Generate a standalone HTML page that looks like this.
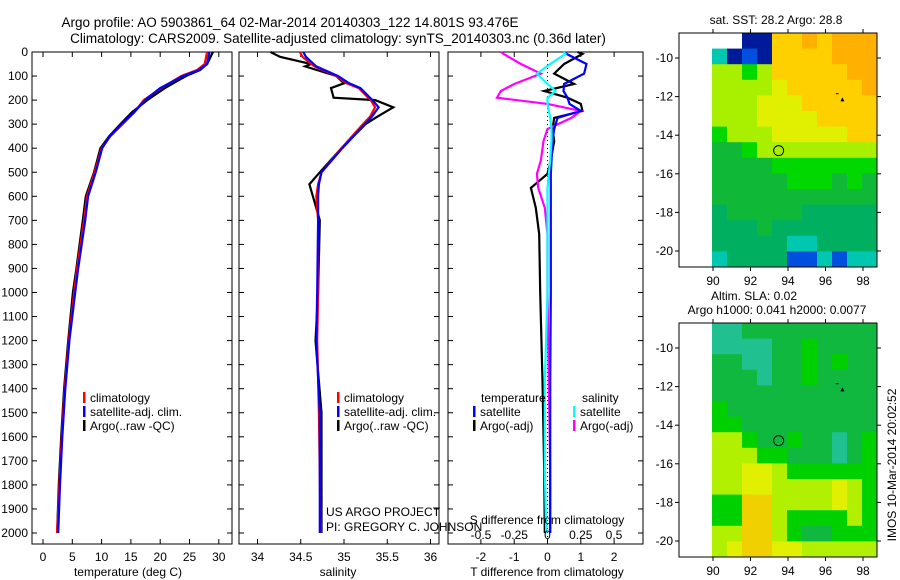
<!DOCTYPE html>
<html><head><meta charset="utf-8"><style>
body{margin:0;background:#fff}
svg{display:block;font-family:"Liberation Sans",sans-serif}
</style></head><body>
<svg id="c" width="900" height="580" viewBox="0 0 900 580" xmlns="http://www.w3.org/2000/svg">
<rect width="900" height="580" fill="#fff"/>
<g font-size="13.5" text-anchor="middle">
<text x="290" y="27">Argo profile: AO 5903861_64 02-Mar-2014 20140303_122 14.801S 93.476E</text>
<text x="338" y="43">Climatology: CARS2009. Satellite-adjusted climatology: synTS_20140303.nc (0.36d later)</text>
</g>
</svg>
<script>
// ---- data ----
const depthTicks=[0,100,200,300,400,500,600,700,800,900,1000,1100,1200,1300,1400,1500,1600,1700,1800,1900,2000];
const tempTicks=[0,5,10,15,20,25,30];
const salTicks=[34,34.5,35,35.5,36];
const tdTicks=[-2,-1,0,1,2];
const sdTicks=[-0.5,-0.25,0,0.25,0.5];
const tempDepth=[0,50,75,100,150,200,250,300,350,400,500,600,700,900,1000,1200,1400,1600,1800,2000];
const tempClim=[28.0,27.6,26.3,23.6,20.2,17.2,15.6,13.6,11.5,10.0,8.8,7.5,7.0,5.8,5.3,4.4,3.7,3.2,2.8,2.4];
const tempSat=[28.4,28.0,26.6,23.9,20.0,17.4,15.6,13.4,11.4,10.1,9.0,7.7,7.2,6.0,5.5,4.5,3.8,3.3,2.9,2.6];
const tempArgo=[29.0,28.0,26.8,24.4,20.8,17.8,15.2,13.2,11.3,9.8,8.7,7.3,6.8,5.7,5.1,4.3,3.6,3.1,2.7,2.4];
const salDepth=[0,20,50,60,100,130,150,190,200,230,270,300,400,500,550,600,700,1000,1200,1500,2000];
const salClim=[34.49,34.52,34.62,34.66,34.91,35.03,35.17,35.28,35.31,35.36,35.30,35.22,34.97,34.74,34.70,34.68,34.70,34.70,34.69,34.71,34.73];
const salSat=[34.53,34.56,34.65,34.68,34.93,35.06,35.19,35.30,35.33,35.40,35.32,35.24,34.98,34.74,34.71,34.70,34.70,34.69,34.68,34.72,34.72];
const salArgo=[34.15,34.26,34.62,34.55,34.91,35.00,34.85,34.88,35.36,35.57,35.38,35.25,34.97,34.72,34.60,34.64,34.72,34.70,34.67,34.74,34.74];
const dDepth=[0,8,50,90,133,162,190,216,245,274,320,370,450,507,565,648,757,1000,1370,1740,2000];
const dTSat=[0.5,0.57,1.17,1.1,0.5,0.48,0.6,0.66,1.0,0.3,0.2,0.15,0.12,0.1,0.1,0.1,0.1,0.1,0.08,0.08,0.08];
const dTArgo=[0.9,1.05,0.5,0.2,0.8,-0.1,0.6,1.0,1.05,0.2,0.15,0.2,0.1,0.0,-0.5,-0.35,-0.25,-0.22,-0.15,-0.1,-0.08];
const dSSat=[0.12,0.135,0.02,-0.08,0.0,0.06,0.0,0.0,0.01,0.02,0.03,0.03,0.02,0.01,0.0,0.0,0.0,0.0,-0.02,-0.02,-0.01];
const dSArgo=[-0.35,-0.33,-0.2,-0.05,-0.25,-0.35,-0.38,0.0,0.25,0.18,0.0,-0.03,-0.05,-0.08,-0.07,-0.02,0.0,0.0,0.01,0.02,0.02];
const lonTicks=[90,92,94,96,98];
const latTicks=[-10,-12,-14,-16,-18,-20];
const sstGrid=[
[-1,-1,0,0,8,8,9,8,9,9,9],[2,0,1,0,8,8,8,8,9,9,9],[6,6,5,6,8,8,8,8,8,9,9],[6,6,6,6,7,8,8,8,8,8,9],
[6,6,6,7,7,7,8,8,8,8,8],[6,6,6,7,7,7,7,8,8,8,8],[5,6,6,6,7,7,7,7,7,8,8],[4,4,5,6,6,6,6,6,6,6,6],
[4,4,4,4,5,5,5,5,5,5,5],[4,4,4,4,4,5,5,5,4,5,4],[4,4,4,4,4,4,4,4,4,4,4],[3,4,4,4,4,4,3,3,3,3,3],
[3,3,3,4,3,3,3,3,3,3,3],[3,3,3,3,3,2,2,3,3,3,3],[2,3,3,3,3,1,1,2,1,2,2]];
const slaGrid=[
[3,3,4,4,4,4,4,4,4,4,4],[3,3,3,3,4,4,5,4,4,4,4],[4,4,3,3,4,4,5,4,5,4,4],[4,4,4,3,4,4,5,4,4,4,4],
[4,4,4,4,4,4,4,4,4,4,4],[5,4,4,4,4,4,4,4,4,4,4],[5,5,4,4,4,4,4,4,4,4,4],[6,6,5,4,4,5,4,4,3,4,5],
[6,6,6,5,5,4,4,4,3,4,5],[6,6,7,7,6,5,5,5,5,5,5],[6,6,7,7,6,6,6,6,7,6,5],[5,5,8,8,6,6,6,6,7,6,5],
[5,5,8,8,6,5,5,5,5,6,5],[6,6,8,8,6,5,4,4,5,5,5],[6,7,8,8,7,7,6,6,6,6,6]];
const floatLon=[93.5], floatLat=[-14.8];
// ---- drawing ----
const svg=document.getElementById('c');const NS='http://www.w3.org/2000/svg';
function mk(t,a,p){const e=document.createElementNS(NS,t);for(const k in a)e.setAttribute(k,a[k]);(p||svg).appendChild(e);return e;}
function txt(x,y,s,anchor,size,p){const e=mk('text',{x:x,y:y,'text-anchor':anchor||'middle','font-size':size||12},p);e.textContent=s;return e;}
const ptop=52,ky=0.2405,bot=544;
const Y=d=>ptop+d*ky;
const panels=[
 {x0:32,x1:232,X:v=>43+5.86*v,ticks:tempTicks,label:'temperature (deg C)',name:'temperature-panel',lx:128},
 {x0:239,x1:439,X:v=>344+86.5*(v-35),ticks:salTicks,label:'salinity',name:'salinity-panel',lx:338},
 {x0:448,x1:643,X:v=>547.5+33.3*v,ticks:tdTicks,label:'T difference from climatology',name:'difference-panel',lx:547}];
panels.forEach((p,i)=>{
 const g=mk('g',{});
 
 
 p.g=g;
 mk('rect',{x:p.x0,y:ptop,width:p.x1-p.x0,height:bot-ptop,fill:'none',stroke:'#000','stroke-width':1},g);
 depthTicks.forEach(d=>{mk('line',{x1:p.x0,x2:p.x0+5,y1:Y(d),y2:Y(d),stroke:'#000'},g);mk('line',{x1:p.x1-5,x2:p.x1,y1:Y(d),y2:Y(d),stroke:'#000'},g);});
 p.ticks.forEach(v=>{mk('line',{x1:p.X(v),x2:p.X(v),y1:bot,y2:bot-5,stroke:'#000'},g);mk('line',{x1:p.X(v),x2:p.X(v),y1:ptop,y2:ptop+5,stroke:'#000'},g);
   const t=txt(p.X(v),561,String(v),'middle',12,g);
   
   });
 const xl=txt(p.lx,576,p.label,'middle',12,g);
 
 
});
const yl=mk('g',{});


depthTicks.forEach(d=>txt(28,Y(d)+4,String(d),'end',12,yl));
function line(p,dep,vals,col,name,w){
 const pts=dep.map((d,i)=>p.X(vals[i]).toFixed(1)+','+Y(d).toFixed(1)).join(' ');
 const e=mk('polyline',{points:pts,fill:'none',stroke:col,'stroke-width':w||2.2},p.g);
 
 
}
line(panels[0],tempDepth,tempArgo,'#000','temp-argo-line');
line(panels[0],tempDepth,tempClim,'#f00','temp-climatology-line');
line(panels[0],tempDepth,tempSat,'#00f','temp-satellite-line');
line(panels[1],salDepth,salArgo,'#000','sal-argo-line');
line(panels[1],salDepth,salClim,'#f00','sal-climatology-line');
line(panels[1],salDepth,salSat,'#00f','sal-satellite-line');
const P3=panels[2];
mk('line',{x1:P3.X(0),x2:P3.X(0),y1:ptop,y2:bot,stroke:'#000','stroke-dasharray':'1,3'},P3.g);
const SX={X:v=>547.5+133*v,g:P3.g};
line(P3,dDepth,dTArgo,'#000','dT-argo-line');
line(SX,dDepth,dSArgo,'#f0f','dS-argo-line');
line(P3,dDepth,dTSat,'#00f','dT-satellite-line');
line(SX,dDepth,dSSat,'#0ff','dS-satellite-line');
sdTicks.forEach(v=>{const t=txt(SX.X(v),539,String(v),'middle',12,P3.g);
 
 });
const sl=txt(547,524,'S difference from climatology','middle',12,P3.g);


function legend(x,y,col,label,name){
 const g=mk('g',{});
 
 
 mk('rect',{x:x,y:y-6,width:2.5,height:11,fill:col},g);
 txt(x+7,y+4,label,'start',12,g);
}
legend(83,398,'#f00','climatology','legend-climatology');
legend(83,412,'#00f','satellite-adj. clim.','legend-satellite-adj');
legend(83,426,'#000','Argo(..raw -QC)','legend-argo');
legend(337,398,'#f00','climatology','legend-climatology-sal');
legend(337,412,'#00f','satellite-adj. clim.','legend-satellite-adj-sal');
legend(337,426,'#000','Argo(..raw -QC)','legend-argo-sal');
txt(481,402,'temperature','start',12);
txt(582,402,'salinity','start',12);
legend(473,412,'#00f','satellite','legend-dT-satellite');
legend(473,426,'#000','Argo(-adj)','legend-dT-argo');
legend(573,412,'#0ff','satellite','legend-dS-satellite');
legend(573,426,'#f0f','Argo(-adj)','legend-dS-argo');
const cr=mk('g',{});


txt(326,516,'US ARGO PROJECT','start',12,cr);
txt(326,531,'PI: GREGORY C. JOHNSON','start',12,cr);
// maps
const sstCols=['#001a9a','#0050e0','#00c8b0','#00b060','#10b838','#00d800','#a8f000','#e0f000','#ffd000','#ffb000'];
const slaCols=['#000','#000','#00c8b0','#20c090','#10b840','#00d000','#b0f000','#e0f000','#f0d000'];
function map(y0,grid,cols,name,titles){
 const g=mk('g',{});
 
 
 const L=v=>713+(v-90)*18.75, T=v=>y0+25+(-10-v)*19.3;
 const cw=(877-712)/11, ch=234/15;
 grid.forEach((row,r)=>row.forEach((v,c)=>{if(v<0)return;
   const e=mk('rect',{x:712+c*cw,y:y0+r*ch,width:cw+0.5,height:ch+0.5,fill:cols[v]},g);
   
   }));
 mk('rect',{x:679,y:y0,width:198,height:234,fill:'none',stroke:'#000'},g);
 lonTicks.forEach(v=>{mk('line',{x1:L(v),x2:L(v),y1:y0,y2:y0-4,stroke:'#000'},g);mk('line',{x1:L(v),x2:L(v),y1:y0+234,y2:y0+238,stroke:'#000'},g);txt(L(v),y0+252,String(v),'middle',12,g);});
 latTicks.forEach(v=>{mk('line',{x1:679,x2:675,y1:T(v),y2:T(v),stroke:'#000'},g);mk('line',{x1:877,x2:881,y1:T(v),y2:T(v),stroke:'#000'},g);txt(673,T(v)+4,String(v),'end',12,g);});
 floatLon.forEach((lo,i)=>{const m=mk('circle',{cx:L(lo),cy:T(floatLat[i]),r:5,fill:'none',stroke:'#000'},g);
   
   });
 mk('polygon',{points:`${L(96.9)-2},${T(-12.25)} ${L(96.9)+2},${T(-12.25)} ${L(96.9)},${T(-12.25)-4}`,fill:'#000'},g);
 mk('line',{x1:L(96.55),x2:L(96.7),y1:T(-11.85),y2:T(-11.85),stroke:'#000'},g);
 titles.forEach(t=>txt(t[0],t[1],t[2],'middle',12,g));
}
map(33,sstGrid,sstCols,'sst-map',[[776,24,'sat. SST: 28.2 Argo: 28.8']]);
map(323,slaGrid,slaCols,'sla-map',[[754,300,'Altim. SLA: 0.02'],[777,314,'Argo h1000: 0.041 h2000: 0.0077']]);
const im=txt(0,0,'IMOS 10-Mar-2014 20:02:52','middle',12);
im.setAttribute('transform','translate(896,465) rotate(-90)');


</script>
</body></html>
